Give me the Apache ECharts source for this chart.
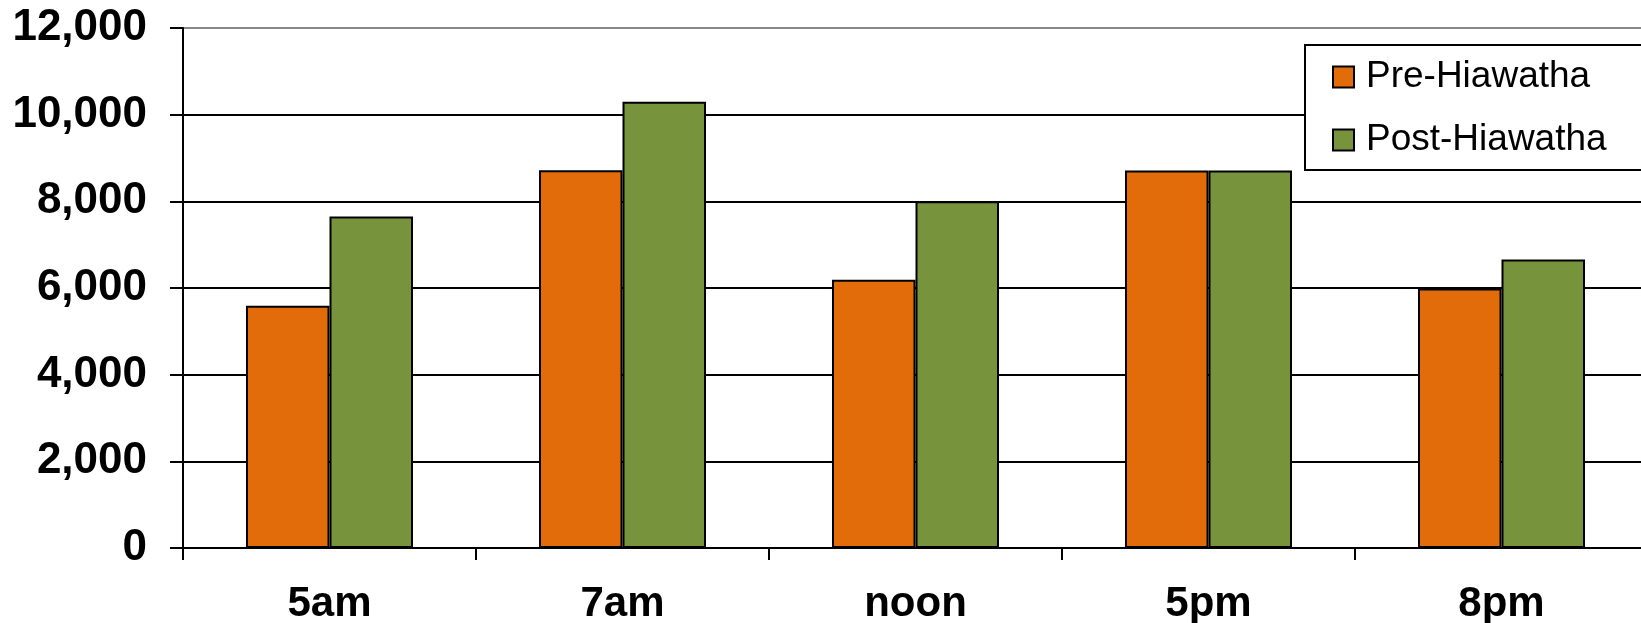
<!DOCTYPE html>
<html>
<head>
<meta charset="utf-8">
<script src="https://cdn.jsdelivr.net/npm/echarts@6/dist/echarts.min.js"></script>
<style>
html,body{margin:0;padding:0;background:#fff;}
#chart{width:1641px;height:623px;}
</style>
</head>
<body>
<div id="chart"></div>
<script>
const categories = ['5am', '7am', 'noon', '5pm', '8pm'];
const preHiawatha = [5590, 8720, 6190, 8710, 5990];
const postHiawatha = [7650, 10300, 8000, 8710, 6660];
const seriesNames = ['Pre-Hiawatha', 'Post-Hiawatha'];
const yTicks = [0, 2000, 4000, 6000, 8000, 10000, 12000];

const chart = echarts.init(document.getElementById('chart'), null, {renderer: 'canvas'});
const fmt = v => String(v).replace(/\B(?=(\d{3})+(?!\d))/g, ',');
chart.setOption({
  animation: false,
  backgroundColor: '#ffffff',
  grid: {left: 183, top: 28, width: 1465, height: 520, containLabel: false, outerBoundsMode: 'none'},
  legend: {
    data: seriesNames,
    orient: 'vertical',
    left: 1305,
    top: 45,
    padding: [12, 60, 10, 27],
    itemWidth: 21,
    itemHeight: 21,
    itemGap: 23,
    icon: 'rect',
    borderColor: '#000',
    borderWidth: 2,
    backgroundColor: '#fff',
    textStyle: {fontFamily: 'Liberation Sans', fontSize: 37, color: '#000', lineHeight: 40, padding: [0, 0, 0, 7]}
  },
  xAxis: {
    type: 'category',
    data: categories,
    axisLine: {lineStyle: {color: '#000', width: 2}},
    axisTick: {show: true, length: 12, lineStyle: {color: '#000', width: 2}},
    axisLabel: {fontFamily: 'Liberation Sans', fontWeight: 'bold', fontSize: 42, color: '#000', margin: 35},
    splitLine: {show: false}
  },
  yAxis: {
    type: 'value',
    min: yTicks[0],
    max: yTicks[yTicks.length - 1],
    interval: 2000,
    axisLine: {show: true, lineStyle: {color: '#000', width: 2}},
    axisTick: {show: true, length: 13, lineStyle: {color: '#000', width: 2}},
    axisLabel: {fontFamily: 'Liberation Sans', fontWeight: 'bold', fontSize: 44, color: '#000', margin: 36, formatter: fmt},
    splitLine: {show: true, lineStyle: {color: ['#000', '#000', '#000', '#000', '#000', '#000', '#888'], width: 2}}
  },
  series: [
    {
      name: seriesNames[0], type: 'bar', data: preHiawatha,
      barGap: '0%', barCategoryGap: '43%',
      itemStyle: {color: '#E36C0A', borderColor: '#000', borderWidth: 2}
    },
    {
      name: seriesNames[1], type: 'bar', data: postHiawatha,
      barGap: '0%', barCategoryGap: '43%',
      itemStyle: {color: '#77933C', borderColor: '#000', borderWidth: 2}
    }
  ]
});
</script>
</body>
</html>
